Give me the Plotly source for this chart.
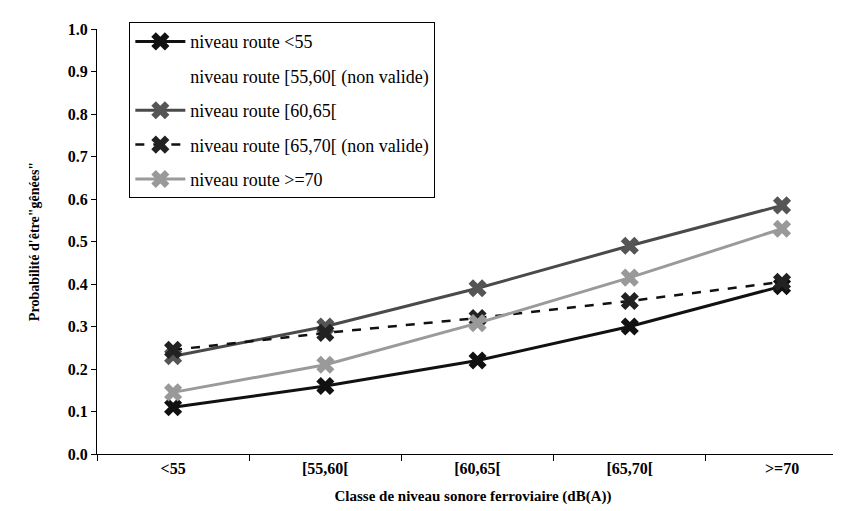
import plotly.graph_objects as go

categories = ["<55", "[55,60[", "[60,65[", "[65,70[", ">=70"]

route_lt55 = [0.11, 0.16, 0.22, 0.30, 0.395]
route_55_60 = [None, None, None, None, None]
route_60_65 = [0.23, 0.30, 0.39, 0.49, 0.585]
route_65_70 = [0.245, 0.285, 0.32, 0.36, 0.405]
route_ge70 = [0.145, 0.21, 0.308, 0.415, 0.53]

names = [
    "niveau route <55",
    "niveau route [55,60[ (non valide)",
    "niveau route [60,65[",
    "niveau route [65,70[ (non valide)",
    "niveau route >=70",
]

serif = "Liberation Serif"

fig = go.Figure()

fig.add_trace(go.Scatter(
    x=categories, y=route_lt55, name=names[0], mode="lines+markers",
    line=dict(color="#111111", width=3),
    marker=dict(symbol="x", size=16, color="#111111"),
    legendgroup="g1"))
fig.add_trace(go.Scatter(
    x=categories, y=route_55_60, name=names[1], mode="lines",
    line=dict(color="rgba(0,0,0,0)", width=0.1),
    legendgroup="g2"))
fig.add_trace(go.Scatter(
    x=categories, y=route_60_65, name=names[2], mode="lines+markers",
    line=dict(color="#4a4a4a", width=3),
    marker=dict(symbol="x", size=16, color="#555555"),
    legendgroup="g3"))
fig.add_trace(go.Scatter(
    x=categories, y=route_65_70, name=names[3], mode="lines+markers",
    line=dict(color="#111111", width=2.5, dash="dash"),
    marker=dict(symbol="x", size=16, color="#222222"),
    legendgroup="g4"))
fig.add_trace(go.Scatter(
    x=categories, y=route_ge70, name=names[4], mode="lines+markers",
    line=dict(color="#9a9a9a", width=3),
    marker=dict(symbol="x", size=16, color="#999999"),
    legendgroup="g5"))

fig.update_layout(
    width=841, height=511,
    margin=dict(l=89, r=0, t=21, b=65),
    plot_bgcolor="white", paper_bgcolor="white",
    font=dict(family=serif, color="black"),
    showlegend=True,
    legend=dict(
        x=0.043, y=1.016, xanchor="left", yanchor="top",
        bgcolor="white", bordercolor="black", borderwidth=1,
        font=dict(family=serif, size=18, color="black"),
        tracegroupgap=8, traceorder="grouped", itemwidth=50,
    ),
    xaxis=dict(
        type="category", range=[-0.5, 4.44],
        showline=True, linecolor="black", linewidth=1,
        ticks="outside", tickson="boundaries", ticklen=6, tickcolor="black",
        showgrid=False, zeroline=False,
        tickfont=dict(family=serif, size=16, color="black", weight="bold"),
        title=dict(text="<b>Classe de niveau sonore ferroviaire (dB(A))</b>",
                   font=dict(family=serif, size=15, color="black"), standoff=14),
    ),
    yaxis=dict(
        range=[0, 1.0], dtick=0.1, tickformat=".1f",
        showline=True, linecolor="black", linewidth=1,
        ticks="outside", ticklen=5, tickcolor="black",
        showgrid=False, zeroline=False,
        tickfont=dict(family=serif, size=16, color="black", weight="bold"),
        title=dict(text="<b>Probabilité d'être\"gênées\"</b>",
                   font=dict(family=serif, size=14, color="black"), standoff=24),
    ),
)

fig.write_html("out.html")
